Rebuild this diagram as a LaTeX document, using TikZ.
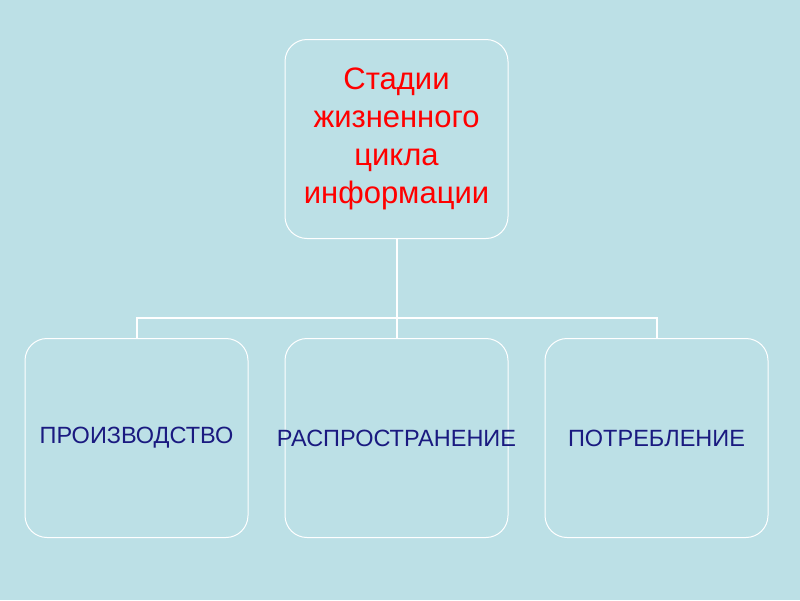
\documentclass[tikz,border=0pt]{standalone}
\usepackage{fontspec}
\setmainfont{Liberation Sans}
\definecolor{bg}{HTML}{BCE0E6}
\definecolor{navy}{HTML}{1A1A80}
\begin{document}
\begin{tikzpicture}[x=1pt,y=-1pt,
  box/.style={draw=white,line width=1pt,rounded corners=22pt,minimum width=223pt,minimum height=199pt,fill=bg,align=center,inner sep=0pt,text width=200pt},
  conn/.style={draw=white,line width=2pt}]
\fill[bg] (0,0) rectangle (800,600);
\useasboundingbox (0,0) rectangle (800,600);
\node[box,text=red,font=\fontsize{31}{38}\selectfont] (top) at (396.5,139) {Стадии\\жизненного\\цикла\\информации};
\node[box,text=navy,font=\fontsize{23.5}{28}\selectfont] (a) at (136.5,438) {ПРОИЗВОДСТВО};
\node[box,text=navy,font=\fontsize{23.5}{28}\selectfont] (b) at (396.5,438) {\hbox to 200pt{\hss РАСПРОСТРАНЕНИЕ\hss}};
\node[box,text=navy,font=\fontsize{23.5}{28}\selectfont] (c) at (656.5,438) {ПОТРЕБЛЕНИЕ};
\coordinate (j) at (396.5,318);
\draw[conn] (top.south) -- (j);
\draw[conn] (a.north) -- (a.north |- j) -- (c.north |- j) -- (c.north);
\draw[conn] (j) -- (b.north);
\end{tikzpicture}
\end{document}
